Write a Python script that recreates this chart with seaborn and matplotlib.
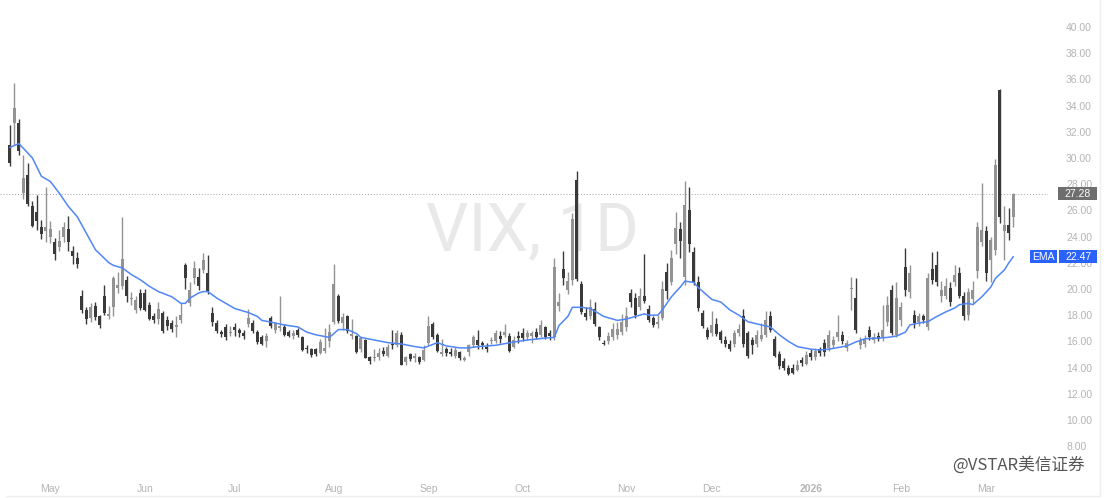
"""
VIX daily candles, Apr 2025 - Mar 2026, with EMA overlay (TradingView style).

Writes out.png (1109x498).
"""

import matplotlib

matplotlib.use("Agg")

import matplotlib.pyplot as plt
import matplotlib.transforms as mtransforms
import numpy as np
import pandas as pd
import seaborn as sns
from matplotlib.patches import Rectangle


# trading bars in each month shown (first month is partial)
MONTHS = ["Apr", "May", "Jun", "Jul", "Aug", "Sep", "Oct", "Nov", "Dec", "2026", "Feb", "Mar"]
MONTH_BARS = [9, 21, 20, 22, 21, 21, 23, 19, 22, 20, 19, 7]

OPEN = [
    31.0, 32.7, 32.7, 27.3, 28.7, 26.3, 25.9, 24.7, 24.4,  # Apr
    24.0, 23.6, 23.2, 24.0, 24.6, 22.9, 22.4, 19.5, 18.4, 17.8, 18.7, 17.9, 19.5, 17.9, 18.6,
    20.1, 20.2, 20.7, 19.2, 18.4, 19.7,  # May
    19.7, 18.8, 17.9, 17.7, 18.2, 17.6, 17.4, 17.1, 17.6, 21.8, 18.9, 20.8, 20.9, 21.45, 21.2,
    18.2, 17.4, 16.7, 17.1, 16.6,  # Jun
    17.1, 16.9, 16.6, 17.3, 17.4, 16.7, 16.3, 16.0, 17.8, 16.9, 17.0, 17.1, 16.7, 16.4, 16.9,
    16.3, 15.5, 15.4, 15.4, 15.1, 15.3, 16.0,  # Jul
    17.5, 19.5, 17.4, 17.9, 16.4, 16.4, 15.4, 16.1, 14.8, 14.7, 14.8, 15.3, 14.9, 15.7, 15.7,
    16.5, 14.4, 15.0, 14.7, 14.8, 14.6,  # Aug
    15.9, 17.3, 16.5, 15.0, 15.4, 15.2, 14.9, 15.2, 14.6, 15.2, 15.7, 16.1, 15.9, 15.6, 16.0,
    16.0, 16.4, 16.5, 16.4, 15.6, 16.4,  # Sep
    16.6, 16.3, 16.4, 16.7, 16.5, 17.1, 16.6, 16.3, 18.7, 21.5, 19.9, 20.7, 28.3, 20.4, 18.2,
    17.9, 18.5, 17.1, 15.9, 16.0, 16.3, 16.5, 16.7,  # Oct
    17.1, 19.7, 19.3, 18.6, 19.5, 18.5, 17.8, 17.3, 17.8, 21.3, 20.5, 23.4, 24.6, 20.9, 26.0,
    22.8, 20.5, 18.2, 16.9,  # Nov
    16.6, 17.3, 16.7, 16.1, 15.8, 15.8, 16.6, 17.9, 16.6, 16.1, 15.8, 16.2, 16.5, 17.9, 16.2,
    15.0, 14.5, 14.0, 14.0, 13.8, 14.6, 14.3,  # Dec
    15.1, 14.8, 15.4, 15.9, 15.5, 15.7, 16.3, 16.5, 15.5, 20.0, 19.3, 15.7, 15.8, 16.9, 16.1,
    16.4, 16.3, 17.5, 19.9, 16.5,  # Jan
    17.6, 21.7, 19.8, 18.0, 17.5, 17.9, 17.1, 21.5, 21.8, 19.5, 19.5, 20.1, 20.5, 21.2, 19.5,
    18.0, 19.2, 21.4, 23.6,  # Feb
    24.4, 22.2, 23.0, 35.2, 24.4, 24.9, 25.5,  # Mar
]

HIGH = [
    32.5, 35.75, 33.0, 30.2, 29.6, 26.7, 27.2, 25.3, 27.8,
    25.2, 23.9, 24.5, 25.1, 25.6, 23.3, 22.8, 19.9, 18.6, 18.9, 19.0, 18.0, 20.3, 18.7, 21.0,
    21.3, 25.5, 21.0, 19.8, 19.5, 20.0,
    20.0, 19.0, 18.2, 19.0, 18.3, 17.9, 17.6, 17.9, 18.9, 22.0, 20.5, 22.1, 21.6, 22.75, 22.6,
    18.6, 17.6, 16.9, 17.3, 17.2,
    17.4, 17.0, 16.9, 18.5, 17.6, 16.9, 16.5, 16.6, 17.9, 17.5, 19.5, 17.3, 16.9, 16.9, 17.0,
    16.4, 15.7, 15.5, 15.5, 16.2, 17.0, 17.3,
    21.9, 19.6, 18.2, 18.0, 17.7, 16.5, 16.3, 16.2, 14.9, 15.4, 15.5, 15.6, 15.8, 16.9, 16.9,
    16.7, 14.9, 15.1, 15.1, 14.9, 15.7,
    17.9, 17.5, 16.6, 16.2, 15.6, 15.5, 15.6, 15.3, 14.9, 15.8, 16.5, 16.9, 16.0, 15.9, 16.3,
    16.9, 16.8, 17.3, 16.6, 16.4, 16.8,
    17.0, 16.9, 16.8, 17.0, 17.6, 17.2, 16.9, 22.4, 19.7, 22.9, 21.3, 25.8, 28.99, 20.6, 18.6,
    19.2, 19.0, 17.2, 16.1, 16.7, 17.4, 17.5, 18.1,
    18.6, 20.0, 19.7, 20.1, 22.7, 18.8, 17.9, 18.0, 20.6, 22.0, 23.0, 25.9, 25.1, 28.27, 27.8,
    23.2, 21.0, 18.4, 17.1,
    18.3, 17.8, 16.9, 16.4, 16.1, 16.9, 17.3, 18.5, 16.8, 16.3, 16.9, 17.4, 18.3, 18.3, 16.4,
    15.3, 14.7, 14.2, 14.3, 14.6, 14.8, 15.3,
    15.4, 15.5, 15.6, 16.2, 16.9, 16.4, 18.0, 16.8, 16.1, 20.9, 20.8, 16.3, 16.5, 17.2, 16.6,
    16.7, 18.8, 19.5, 20.3, 20.5,
    19.0, 23.1, 21.8, 18.4, 18.2, 18.1, 21.2, 22.8, 22.9, 20.6, 20.8, 20.5, 21.8, 21.7, 19.8,
    20.1, 20.6, 25.1, 28.1,
    24.8, 24.0, 29.9, 35.3, 26.3, 26.2, 27.3,
]

LOW = [
    29.4, 31.0, 30.2, 26.9, 26.3, 24.7, 24.5, 23.8, 23.6,
    23.5, 22.2, 22.9, 23.6, 22.9, 21.9, 21.6, 18.2, 17.3, 17.5, 17.6, 17.0, 18.0, 17.7, 17.9,
    19.7, 20.0, 19.0, 18.8, 18.2, 18.4,
    18.3, 17.6, 17.4, 17.3, 16.6, 16.9, 16.7, 16.3, 17.4, 20.0, 18.7, 20.4, 19.9, 21.2, 19.6,
    17.2, 16.6, 16.3, 16.1, 16.4,
    16.4, 16.3, 16.2, 17.1, 16.6, 15.8, 15.7, 15.6, 17.0, 16.6, 16.8, 16.4, 16.3, 16.2, 16.3,
    15.3, 15.1, 14.8, 14.9, 15.0, 15.1, 15.6,
    17.3, 17.4, 16.9, 16.6, 16.2, 15.1, 15.2, 14.7, 14.3, 14.5, 14.6, 14.9, 14.8, 15.4, 15.6,
    14.2, 14.2, 14.5, 14.4, 14.3, 14.5,
    15.7, 16.2, 15.2, 14.9, 14.9, 14.9, 14.7, 14.6, 14.5, 14.9, 15.6, 15.4, 15.4, 15.2, 15.8,
    15.9, 15.9, 16.3, 15.2, 15.5, 15.9,
    16.0, 16.1, 15.9, 16.2, 16.3, 16.2, 16.1, 16.1, 18.3, 20.3, 19.6, 20.3, 20.6, 18.1, 17.6,
    17.7, 17.2, 16.1, 15.7, 15.8, 16.1, 16.2, 16.5,
    16.8, 18.6, 17.8, 18.4, 18.9, 17.5, 17.1, 17.0, 17.6, 19.2, 20.3, 22.7, 22.4, 20.3, 22.8,
    20.3, 18.3, 17.0, 16.2,
    16.4, 16.4, 15.9, 15.6, 15.3, 15.6, 16.4, 15.6, 14.7, 15.0, 15.6, 16.0, 16.3, 16.7, 14.8,
    13.9, 13.8, 13.4, 13.5, 13.7, 14.1, 14.2,
    14.6, 14.6, 14.9, 14.9, 15.3, 15.5, 16.0, 15.8, 15.3, 18.4, 16.6, 15.4, 15.6, 16.1, 15.9,
    16.0, 16.0, 17.2, 16.5, 16.3,
    17.2, 19.5, 19.3, 17.0, 17.2, 17.4, 16.9, 20.4, 20.2, 19.0, 19.2, 18.7, 20.2, 19.3, 17.6,
    17.6, 18.9, 20.8, 23.3,
    20.6, 20.5, 22.6, 25.0, 22.2, 23.7, 24.7,
]

CLOSE = [
    29.65, 33.82, 30.57, 28.45, 26.47, 24.84, 25.15, 24.17, 24.70,
    24.60, 22.68, 23.64, 24.76, 23.55, 22.48, 21.90, 18.39, 17.72, 18.62, 17.83, 17.24, 18.14,
    18.09, 20.87, 20.28, 22.29, 19.50, 19.31, 19.18, 18.57,
    18.36, 17.69, 17.61, 18.48, 16.77, 17.16, 16.95, 17.26, 18.02, 20.82, 19.90, 21.60, 20.20,
    22.20, 19.83, 17.48, 16.76, 16.59, 16.32, 16.73,
    16.83, 16.64, 16.38, 17.79, 16.81, 15.94, 15.78, 16.40, 17.20, 17.38, 17.16, 16.52, 16.41,
    16.65, 16.50, 15.37, 15.39, 14.93, 15.03, 15.98, 15.48, 16.72,
    20.38, 17.52, 17.85, 16.77, 16.57, 15.15, 16.25, 14.73, 14.49, 14.83, 15.09, 15.00, 15.57,
    15.69, 16.60, 14.22, 14.79, 14.62, 14.85, 14.43, 15.36,
    17.17, 16.35, 15.30, 15.18, 15.11, 15.04, 15.35, 14.71, 14.76, 15.69, 16.36, 15.72, 15.70,
    15.45, 16.10, 16.64, 16.18, 16.74, 15.29, 16.12, 16.28,
    16.29, 16.63, 16.65, 16.37, 17.24, 16.30, 16.43, 21.66, 19.03, 20.81, 20.64, 25.31, 20.78,
    18.23, 17.87, 18.60, 17.30, 16.37, 15.79, 16.42, 16.92, 16.91, 17.44,
    17.90, 19.00, 18.01, 19.50, 19.08, 17.60, 17.28, 17.51, 20.00, 19.83, 22.38, 24.69, 23.66,
    26.42, 23.43, 20.52, 18.56, 17.19, 16.35,
    17.24, 16.59, 16.08, 15.78, 15.41, 16.66, 16.93, 15.77, 14.85, 15.74, 16.50, 16.48, 17.62,
    16.87, 14.91, 14.08, 14.00, 13.47, 13.60, 14.20, 14.33, 14.95,
    14.8, 15.3, 15.1, 15.2, 16.5, 16.1, 16.7, 16.0, 15.9, 20.1, 16.9, 16.1, 16.2, 16.3, 16.3,
    16.2, 16.9, 18.8, 16.6, 19.3,
    18.6, 19.9, 21.2, 17.4, 17.9, 17.6, 20.8, 20.7, 20.5, 19.9, 20.2, 19.0, 21.1, 19.5, 17.9,
    19.8, 19.9, 24.7, 24.5,
    21.2, 23.7, 29.5, 25.5, 24.9, 24.3, 27.28,
]

# EMA at a subset of bars
EMA_BAR = [0, 2, 5, 7, 9, 11, 13, 15, 17, 19, 22, 23, 25, 27, 29, 31, 33, 36, 38, 39, 40, 42,
           43, 44, 46, 48, 50, 53, 55, 56, 59, 61, 64, 66, 68, 71, 72, 73, 75, 77, 78, 81, 84,
           87, 90, 92, 95, 97, 100, 102, 104, 108, 112, 115, 119, 121, 122, 124, 125, 127, 129,
           132, 135, 137, 139, 141, 142, 144, 145, 147, 149, 150, 152, 153, 156, 158, 160, 162,
           164, 167, 169, 171, 173, 175, 178, 180, 182, 186, 188, 190, 193, 195, 197, 199, 200,
           202, 204, 206, 208, 210, 211, 213, 214, 216, 218, 219, 221, 222, 223]
EMA_VAL = [30.8, 31.1, 30.0, 28.6, 28.2, 27.3, 26.3, 25.5, 24.25, 23.0, 22.0, 21.8, 21.6, 21.1,
           20.7, 20.2, 19.8, 19.4, 18.9, 18.9, 19.3, 19.7, 19.8, 19.8, 19.3, 18.9, 18.5, 18.2,
           17.9, 17.6, 17.4, 17.25, 17.1, 16.7, 16.5, 16.3, 16.6, 16.9, 16.9, 16.6, 16.3, 16.1,
           15.9, 15.8, 15.6, 15.5, 15.9, 15.65, 15.5, 15.5, 15.6, 15.7, 15.95, 16.1, 16.25,
           16.3, 17.2, 17.9, 18.6, 18.6, 18.5, 17.9, 17.6, 17.7, 17.9, 18.1, 18.0, 18.0, 18.4,
           19.4, 20.15, 20.6, 20.5, 20.1, 19.2, 19.0, 18.4, 18.0, 17.5, 17.25, 17.1, 16.5, 16.0,
           15.6, 15.4, 15.34, 15.4, 15.65, 15.95, 16.2, 16.25, 16.3, 16.4, 16.7, 17.25, 17.4,
           17.5, 17.9, 18.25, 18.55, 18.8, 18.9, 18.8, 19.4, 20.15, 20.8, 21.45, 22.0, 22.47]

LAST_PRICE = 27.28
LAST_EMA = 22.47
Y_TICKS = list(range(8, 41, 2))

UP_COLOR = "#939393"
DOWN_COLOR = "#3a3a3a"
EMA_COLOR = "#5086f5"
LABEL_COLOR = "#b4b4b4"

W, H = 1109, 498


def main() -> None:
    assert len(OPEN) == len(HIGH) == len(LOW) == len(CLOSE) == sum(MONTH_BARS)

    df = pd.DataFrame({"open": OPEN, "high": HIGH, "low": LOW, "close": CLOSE})
    df["bar"] = np.arange(len(df))
    up = df["close"] >= df["open"]
    colors = np.where(up, UP_COLOR, DOWN_COLOR)

    sns.set_theme(style="white")
    plt.rcParams["font.family"] = ["Liberation Sans", "DejaVu Sans"]

    fig = plt.figure(figsize=(W / 100, H / 100), dpi=100, facecolor="white")
    ax = fig.add_axes([0, 33 / H, 1048 / W, 465 / H])
    ax.set_facecolor("white")

    # watermark
    ax.text(0.508, 0.50, "VIX, 1D", transform=ax.transAxes, ha="center", va="center",
            fontsize=48, color="#e9e9e9", family=["Roboto", "DejaVu Sans"], zorder=0)

    ax.axhline(LAST_PRICE, color="#a0a0a0", linestyle=(0, (1, 2)), linewidth=0.7, zorder=1)

    body_lo = np.minimum(df["open"], df["close"])
    body_h = (df["close"] - df["open"]).abs().clip(lower=0.08)
    ax.vlines(df["bar"], df["low"], df["high"], colors=colors, linewidth=1.0, zorder=2)
    ax.bar(df["bar"], body_h, bottom=body_lo, width=0.68, color=colors, linewidth=0, zorder=3)

    ema = pd.DataFrame({"bar": EMA_BAR, "ema": EMA_VAL})
    sns.lineplot(data=ema, x="bar", y="ema", ax=ax, color=EMA_COLOR, linewidth=1.1, zorder=4)

    ax.set_xlim(-2.2, 230.7)
    ax.set_ylim(6.56, 42.06)
    for s in ax.spines.values():
        s.set_visible(False)
    ax.set_xlabel("")
    ax.set_ylabel("")

    # month ticks at first bar of each month (skip the partial first month)
    starts = np.cumsum([0] + MONTH_BARS[:-1])
    ax.set_xticks(starts[1:])
    ax.set_xticklabels(MONTHS[1:])
    for lab in ax.get_xticklabels():
        if lab.get_text() == "2026":
            lab.set_fontweight("bold")
            lab.set_color("#8c8c8c")
    ax.tick_params(axis="x", length=0, pad=14, labelsize=7.5, labelcolor=LABEL_COLOR)

    ax.yaxis.tick_right()
    ax.set_yticks(Y_TICKS)
    ax.set_yticklabels([f"{v:.2f}" for v in Y_TICKS])
    ax.tick_params(axis="y", length=0, pad=13, labelsize=7.5, labelcolor=LABEL_COLOR)

    # price scale badges (x in figure fraction, y in data)
    blend = mtransforms.blended_transform_factory(fig.transFigure, ax.transData)
    box_h = 13 / 13.1

    def badge(x0, x1, value, text, face):
        fig.patches.append(Rectangle((x0 / W, value - box_h / 2), (x1 - x0) / W, box_h,
                                     transform=blend, facecolor=face, edgecolor="none",
                                     zorder=5))
        fig.text((x0 + x1) / 2 / W, value, text, transform=blend, ha="center", va="center",
                 fontsize=7.5, color="white", zorder=6)

    badge(1058, 1097, LAST_PRICE, f"{LAST_PRICE:.2f}", "#6e6e6e")
    badge(1030, 1057, LAST_EMA, "EMA", "#2962ff")
    badge(1059, 1097, LAST_EMA, f"{LAST_EMA:.2f}", "#2962ff")

    # outer frame lines
    fig.add_artist(plt.Line2D([1100 / W, 1100 / W], [2 / H, 1], color="#efefef", linewidth=1))
    fig.add_artist(plt.Line2D([6 / W, 1100 / W], [2 / H, 2 / H], color="#efefef", linewidth=1))

    # reposted-image watermark
    fig.text(952 / W, 1 - 465 / H, "@VSTAR美信证券", ha="left", va="center", fontsize=12,
             color="#555555", family=["Noto Sans CJK SC", "DejaVu Sans"])

    fig.savefig("out.png", dpi=100, facecolor="white")
    plt.close(fig)


if __name__ == "__main__":
    main()
